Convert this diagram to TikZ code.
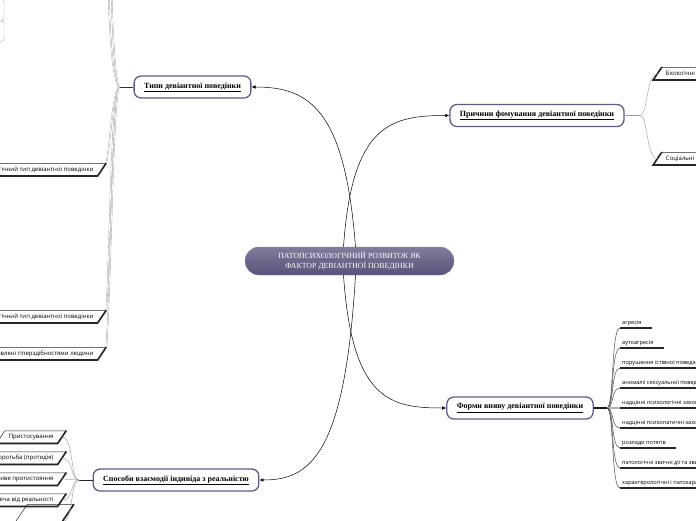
\documentclass[tikz,border=0pt]{standalone}
\usepackage{fontspec}
\setmainfont{Liberation Serif}
\newfontfamily\leaffont{Open Sans}
\usetikzlibrary{shapes.geometric,arrows.meta}
\definecolor{topicline}{HTML}{5F5B88}
\definecolor{hubtop}{HTML}{807C9C}
\definecolor{hubbottom}{HTML}{56527A}

\begin{document}
\begin{tikzpicture}[x=1pt, y=-1pt,
hub/.style={rounded corners=14pt, top color=hubtop, bottom color=hubbottom, draw=hubbottom!70,
  text=white, align=center, font=\fontsize{7.8}{9.5}\selectfont, minimum width=209pt, minimum height=28pt},
topic/.style={draw=topicline, line width=1.3pt, fill=white, rounded corners=7pt,
  font=\fontsize{8}{9}\selectfont\bfseries, minimum height=22pt, inner xsep=10pt},
leaf/.style={trapezium, trapezium left angle=56, trapezium right angle=124, draw=black!85,
  line width=0.5pt, fill=white, font=\fontsize{6}{7}\selectfont\leaffont,
  text height=4.4pt, text depth=1.4pt, inner ysep=3.3pt, inner xsep=4pt},
formitem/.style={anchor=south west, font=\fontsize{5.6}{6}\selectfont\leaffont,
  text height=4.2pt, text depth=1.3pt, inner xsep=4pt, inner ysep=2pt},
link/.style={-{Latex[length=4pt,width=3.5pt]}, line width=0.5pt},
twig/.style={draw=gray!70, line width=0.5pt},
longtwig/.style={draw=gray!75, double=white, double distance=0.7pt, line width=0.35pt},
heavy/.style={draw=black!85, line width=1.6pt}]

\useasboundingbox (0,0) rectangle (696,520);
\clip (0,0) rectangle (696,520);

% centre and main topics
\node[hub] (hub) at (349.5,261) {ПАТОПСИХОЛОГІЧНИЙ РОЗВИТОК ЯК\\ФАКТОР ДЕВІАНТНОЇ ПОВЕДІНКИ};

\node[topic] (types) at (192.5,87) {\underline{Типи девіантної поведінки}};
\node[topic] (causes) at (537,115.5) {\underline{Причини фомування девіантної поведінки}};
\node[topic] (forms) at (520,408) {\underline{Форми вияву девіантної поведінки}};
\node[topic] (ways) at (176,480) {\underline{Способи взаємодії індивіда з реальністю}};

\coordinate (hubNL) at ([xshift=-6pt]hub.north);
\coordinate (hubNR) at ([xshift=6pt]hub.north);
\coordinate (hubSL) at ([xshift=-6pt]hub.south);
\coordinate (hubSR) at ([xshift=6pt]hub.south);

\draw[link] (hubNR) .. controls (345,110) and (310,87) .. (types.east);
\draw[link] (hubNL) .. controls (352,125) and (390,115.5) .. (causes.west);
\draw[link] (hubSL) .. controls (352,400) and (390,408) .. (forms.west);
\draw[link] (hubSR) .. controls (345,455) and (310,480) .. (ways.east);

% types of deviant behaviour
\node[draw=gray!70, rounded corners=3pt, minimum width=60pt, minimum height=22pt] (hidA) at (-26,10) {};
\node[draw=gray!60, rounded corners=3pt, minimum width=60pt, minimum height=21pt] (hidB) at (-26,31) {};

\node[leaf, anchor=east] (t1) at (102,169.5) {Патохарактерологічний тип девіантної поведінки};
\node[leaf, anchor=east] (t2) at (102,316.5) {Психопатологічний тип девіантної поведінки};
\node[leaf, anchor=east] (t3) at (102,353.5) {Типи, обумовлені гіперздібностями людини};
\draw[heavy] (t1.bottom left corner) -- (t1.bottom right corner) -- (t1.top right corner);
\draw[heavy] (t2.bottom left corner) -- (t2.bottom right corner) -- (t2.top right corner);
\draw[heavy] (t3.bottom left corner) -- (t3.bottom right corner) -- (t3.top right corner);

\coordinate (typesJ) at (119,87);
\coordinate (upA) at (108,-40);
\coordinate (upB) at (111,-40);
\draw[black!80, line width=0.8pt] (types.west) -- (typesJ);
\draw[longtwig] (typesJ) .. controls (113,80) and (109,40) .. (upA);
\draw[longtwig] (typesJ) .. controls (115,78) and (112,35) .. (upB);
\draw[longtwig] (typesJ) .. controls (112,95) and (111,140) .. (t1.top right corner);
\draw[longtwig] (typesJ) .. controls (111,100) and (110,250) .. (t2.top right corner);
\draw[longtwig] (typesJ) .. controls (113,100) and (111,280) .. (t3.top right corner);

% causes
\node[leaf, anchor=west] (c1) at (657.5,73.5) {Біологічні причини};
\node[leaf, anchor=west] (c2) at (657.5,158.5) {Соціальні причини};
\draw[heavy] (c1.top left corner) -- (c1.bottom left corner) -- (c1.bottom right corner);
\draw[heavy] (c2.top left corner) -- (c2.bottom left corner) -- (c2.bottom right corner);

\coordinate (causesJ) at (640,115.5);
\draw[gray!80, line width=1pt] (causes.east) -- (causesJ);
\draw[twig] (causesJ) .. controls (648,115.5) and (646,73.5) .. (c1.west);
\draw[twig] (causesJ) .. controls (648,115.5) and (646,158.5) .. (c2.west);

% forms
\node[formitem] (f1) at (618,328) {агресія};
\node[formitem] (f2) at (618,348) {аутоагресія};
\node[formitem] (f3) at (618,368) {порушення їстівної поведінки};
\node[formitem] (f4) at (618,388) {аномалії сексуальної поведінки};
\node[formitem] (f5) at (618,408) {надцінні психологічні захоплення};
\node[formitem] (f6) at (618,428) {надцінні психопатичні захоплення};
\node[formitem] (f7) at (618,448) {розлади потягів};
\node[formitem] (f8) at (618,468) {патологічні звичні дії та звички};
\node[formitem] (f9) at (618,488) {характерологічні і патохарактерологічні реакції};
\draw[heavy] ([xshift=2pt]f1.south west) -- ([xshift=6pt]f1.south east);
\draw[heavy] ([xshift=2pt]f2.south west) -- ([xshift=6pt]f2.south east);
\draw[heavy] ([xshift=2pt]f3.south west) -- ([xshift=6pt]f3.south east);
\draw[heavy] ([xshift=2pt]f4.south west) -- ([xshift=6pt]f4.south east);
\draw[heavy] ([xshift=2pt]f5.south west) -- ([xshift=6pt]f5.south east);
\draw[heavy] ([xshift=2pt]f6.south west) -- ([xshift=6pt]f6.south east);
\draw[heavy] ([xshift=2pt]f7.south west) -- ([xshift=6pt]f7.south east);
\draw[heavy] ([xshift=2pt]f8.south west) -- ([xshift=6pt]f8.south east);
\draw[heavy] ([xshift=2pt]f9.south west) -- ([xshift=6pt]f9.south east);

\coordinate (formsJ) at (607,408);
\draw[black!90, line width=2pt] (forms.east) -- (formsJ);
\draw[twig, draw=black!70] (formsJ) .. controls (614,408) and (611,328) .. ([xshift=2pt]f1.south west);
\draw[twig, draw=black!70] (formsJ) .. controls (614,408) and (611,348) .. ([xshift=2pt]f2.south west);
\draw[twig, draw=black!70] (formsJ) .. controls (614,408) and (611,368) .. ([xshift=2pt]f3.south west);
\draw[twig, draw=black!70] (formsJ) .. controls (614,408) and (611,388) .. ([xshift=2pt]f4.south west);
\draw[gray!60, line width=1.4pt] (formsJ) -- ([xshift=2pt]f5.south west);
\draw[twig, draw=black!70] (formsJ) .. controls (614,408) and (611,428) .. ([xshift=2pt]f6.south west);
\draw[twig, draw=black!70] (formsJ) .. controls (614,408) and (611,448) .. ([xshift=2pt]f7.south west);
\draw[twig, draw=black!70] (formsJ) .. controls (614,408) and (611,468) .. ([xshift=2pt]f8.south west);
\draw[twig, draw=black!70] (formsJ) .. controls (614,408) and (611,488) .. ([xshift=2pt]f9.south west);

% ways of interaction with reality
\node[leaf, anchor=east] (w1) at (62,437) {Пристосування};
\node[leaf, anchor=east] (w2) at (62,458) {Боротьба (протидія)};
\node[leaf, anchor=east] (w3) at (62,479) {Хворобливе протистояння};
\node[leaf, anchor=east] (w4) at (62,500) {Втеча від реальності};
\node[leaf, anchor=east, minimum width=70pt] (w5) at (62,522) {};
\draw[heavy] (w1.bottom left corner) -- (w1.bottom right corner) -- (w1.top right corner);
\draw[heavy] (w2.bottom left corner) -- (w2.bottom right corner) -- (w2.top right corner);
\draw[heavy] (w3.bottom left corner) -- (w3.bottom right corner) -- (w3.top right corner);
\draw[heavy] (w4.bottom left corner) -- (w4.bottom right corner) -- (w4.top right corner);
\draw[heavy] (w5.bottom left corner) -- (w5.bottom right corner) -- (w5.top right corner);

\coordinate (waysJ) at (79,480);
\draw[black!85, line width=1pt] (ways.west) -- (waysJ);
\draw[twig] (waysJ) .. controls (70,480) and (74,437) .. (w1.east);
\draw[twig] (waysJ) .. controls (70,480) and (74,458) .. (w2.east);
\draw[twig] (waysJ) -- (w3.east);
\draw[twig] (waysJ) .. controls (70,480) and (74,500) .. (w4.east);
\draw[twig] (waysJ) .. controls (70,480) and (74,522) .. (w5.east);

\end{tikzpicture}
\end{document}
